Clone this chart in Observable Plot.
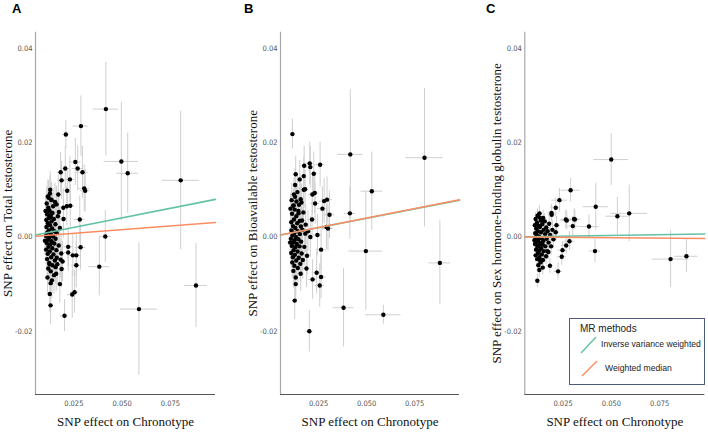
<!DOCTYPE html>
<html>
<head>
<meta charset="utf-8">
<script src="https://cdn.jsdelivr.net/npm/d3@7"></script>
<script src="https://cdn.jsdelivr.net/npm/@observablehq/plot@0.6"></script>
<style>
  html, body { margin: 0; padding: 0; background: #fff; }
  #fig { position: relative; width: 708px; height: 432px; overflow: hidden; background: #fff; }
  .panel { position: absolute; top: 0; }
  .letter { position: absolute; font: bold 13px "Liberation Sans", Arial, sans-serif; color: #000; }
  #fig svg [aria-label$="tick label"] text { font-family: "DejaVu Sans Condensed", "Liberation Sans Narrow", "DejaVu Sans", sans-serif; font-stretch: condensed; font-size: 7.5px; fill: #555; }
  #fig svg [aria-label$="axis label"] text { font-family: "Liberation Serif", "DejaVu Serif", serif; font-size: 13px; fill: #111; }
  #legend { position: absolute; left: 569px; top: 318px; width: 134px; height: 65px; border: 1px solid #4d5b7c; background: #fff; font-family: "Liberation Sans", Arial, sans-serif; color: #222; }
  #legend .t { position: absolute; left: 10px; top: 4px; font-size: 10px; }
  #legend .k { position: absolute; font-size: 8.6px; }
  #legend svg { position: absolute; left: 0; top: 0; }
</style>
</head>
<body>
<div id="fig">
  <div class="letter" style="left:12px;top:1px">A</div>
  <div class="letter" style="left:244px;top:1px">B</div>
  <div class="letter" style="left:486px;top:1px">C</div>
</div>
<script>
// Panel titles / axis texts
const panelLetters = ["A", "B", "C"];
const yLabels = [
  "SNP effect on Total testosterone",
  "SNP effect on Bioavailable testosterone",
  "SNP effect on Sex hormone-binding globulin testosterone"
];
const xLabel = "SNP effect on Chronotype";
const xTicks = [0.025, 0.050, 0.075];
const yTicks = [-0.02, 0.00, 0.02, 0.04];
const methods = ["Inverse variance weighted", "Weighted median"];
const methodColors = ["#66c2a5", "#fc8d62"];

// MR slopes per panel [IVW, weighted median]
const slopesA = [0.081, 0.031];
const slopesB = [0.079, 0.080];
const slopesC = [0.0063, -0.0034];

// SNP rows: [beta exposure, beta outcome, se exposure, se outcome]
const snpA = [
  [0.0416, 0.0271, 0.0066, 0.0099], [0.0287, 0.0235, 0.0041, 0.0064], [0.0209, 0.0217, 0.0016, 0.0030],
  [0.0496, 0.0160, 0.0089, 0.0125], [0.0529, 0.0135, 0.0056, 0.0085], [0.0803, 0.0120, 0.0097, 0.0147],
  [0.0413, 0.0001, 0.0030, 0.0055], [0.0382, -0.0063, 0.0054, 0.0062], [0.0587, -0.0153, 0.0095, 0.0140],
  [0.0882, -0.0103, 0.0058, 0.0089], [0.0202, -0.0167, 0.0020, 0.0034], [0.0130, -0.0145, 0.0012, 0.0040],
  [0.0126, -0.0121, 0.0012, 0.0038], [0.0242, -0.0122, 0.0025, 0.0050], [0.0254, -0.0117, 0.0022, 0.0045],
  [0.0258, 0.0159, 0.0030, 0.0050], [0.0270, 0.0145, 0.0028, 0.0048], [0.0182, 0.0137, 0.0018, 0.0042],
  [0.0206, 0.0145, 0.0022, 0.0046], [0.0295, 0.0137, 0.0030, 0.0055], [0.0187, 0.0120, 0.0020, 0.0040],
  [0.0230, 0.0122, 0.0025, 0.0048], [0.0304, 0.0103, 0.0028, 0.0050], [0.0309, 0.0098, 0.0025, 0.0045],
  [0.0216, 0.0098, 0.0020, 0.0042], [0.0128, 0.0100, 0.0012, 0.0038], [0.0116, 0.0086, 0.0012, 0.0035],
  [0.0135, 0.0078, 0.0014, 0.0036], [0.0161, 0.0069, 0.0016, 0.0038], [0.0196, 0.0062, 0.0020, 0.0040],
  [0.0214, 0.0065, 0.0022, 0.0042], [0.0232, 0.0066, 0.0024, 0.0045], [0.0121, 0.0057, 0.0012, 0.0036],
  [0.0173, 0.0053, 0.0018, 0.0038], [0.0131, 0.0042, 0.0014, 0.0034], [0.0197, 0.0038, 0.0020, 0.0040],
  [0.0281, 0.0037, 0.0028, 0.0050], [0.0221, -0.0021, 0.0022, 0.0042], [0.0285, -0.0022, 0.0028, 0.0048],
  [0.0221, -0.0033, 0.0020, 0.0040], [0.0245, -0.0039, 0.0024, 0.0045], [0.0263, -0.0039, 0.0026, 0.0046],
  [0.0162, -0.0044, 0.0016, 0.0036], [0.0182, -0.0048, 0.0018, 0.0038], [0.0263, -0.0060, 0.0026, 0.0048],
  [0.0125, -0.0058, 0.0012, 0.0035], [0.0156, -0.0064, 0.0015, 0.0036], [0.0187, -0.0068, 0.0018, 0.0040],
  [0.0159, -0.0078, 0.0016, 0.0038], [0.0131, -0.0098, 0.0013, 0.0036], [0.0178, -0.0100, 0.0018, 0.0040],
  [0.0110, 0.0071, 0.0011, 0.0036], [0.0118, 0.0062, 0.0012, 0.0034], [0.0125, 0.0055, 0.0013, 0.0038],
  [0.0112, 0.0048, 0.0011, 0.0033], [0.0130, 0.0046, 0.0013, 0.0037], [0.0140, 0.0051, 0.0014, 0.0040],
  [0.0121, 0.0040, 0.0012, 0.0035], [0.0108, 0.0036, 0.0011, 0.0032], [0.0135, 0.0033, 0.0014, 0.0036],
  [0.0147, 0.0038, 0.0015, 0.0039], [0.0116, 0.0029, 0.0012, 0.0034], [0.0127, 0.0025, 0.0013, 0.0037],
  [0.0155, 0.0027, 0.0016, 0.0040], [0.0109, 0.0021, 0.0011, 0.0033], [0.0138, 0.0018, 0.0014, 0.0036],
  [0.0121, 0.0014, 0.0012, 0.0035], [0.0150, 0.0012, 0.0015, 0.0039], [0.0113, 0.0009, 0.0011, 0.0034],
  [0.0131, 0.0006, 0.0013, 0.0036], [0.0162, 0.0008, 0.0016, 0.0041], [0.0106, 0.0002, 0.0011, 0.0032],
  [0.0124, -0.0001, 0.0012, 0.0035], [0.0143, 0.0001, 0.0014, 0.0038], [0.0117, -0.0006, 0.0012, 0.0034],
  [0.0135, -0.0009, 0.0013, 0.0036], [0.0156, -0.0004, 0.0016, 0.0040], [0.0110, -0.0013, 0.0011, 0.0033],
  [0.0128, -0.0016, 0.0013, 0.0036], [0.0149, -0.0014, 0.0015, 0.0039], [0.0119, -0.0021, 0.0012, 0.0035],
  [0.0139, -0.0024, 0.0014, 0.0037], [0.0107, -0.0027, 0.0011, 0.0032], [0.0126, -0.0031, 0.0013, 0.0035],
  [0.0160, -0.0028, 0.0016, 0.0041], [0.0115, -0.0036, 0.0012, 0.0034], [0.0145, -0.0037, 0.0015, 0.0038],
  [0.0133, -0.0043, 0.0013, 0.0036], [0.0112, -0.0047, 0.0011, 0.0033], [0.0152, -0.0050, 0.0015, 0.0040],
  [0.0123, -0.0055, 0.0012, 0.0035], [0.0140, -0.0060, 0.0014, 0.0038], [0.0118, -0.0067, 0.0012, 0.0036],
  [0.0131, -0.0073, 0.0013, 0.0037], [0.0148, -0.0081, 0.0015, 0.0040], [0.0114, -0.0086, 0.0011, 0.0034],
  [0.0137, -0.0092, 0.0014, 0.0038], [0.0168, 0.0044, 0.0017, 0.0041], [0.0172, -0.0018, 0.0017, 0.0040],
  [0.0165, -0.0058, 0.0017, 0.0041], [0.0178, 0.0019, 0.0018, 0.0042], [0.0104, 0.0055, 0.0010, 0.0032],
  [0.0101, -0.0008, 0.0010, 0.0031], [0.0120, 0.0083, 0.0012, 0.0036], [0.0127, 0.0092, 0.0013, 0.0037],
  [0.0143, 0.0065, 0.0014, 0.0039], [0.0153, 0.0074, 0.0015, 0.0040], [0.0134, 0.0079, 0.0013, 0.0037],
  [0.0185, -0.0035, 0.0018, 0.0042], [0.0192, -0.0052, 0.0019, 0.0043], [0.0170, 0.0090, 0.0017, 0.0041]
];

const snpB = [
  [0.0114, 0.0218, 0.0012, 0.0032], [0.0415, 0.0175, 0.0065, 0.0137], [0.0801, 0.0168, 0.0097, 0.0147],
  [0.0527, 0.0097, 0.0056, 0.0083], [0.0413, 0.0050, 0.0030, 0.0055], [0.0496, -0.0030, 0.0088, 0.0125],
  [0.0881, -0.0055, 0.0056, 0.0089], [0.0380, -0.0150, 0.0054, 0.0083], [0.0587, -0.0165, 0.0092, 0.0020],
  [0.0202, -0.0200, 0.0020, 0.0044], [0.0126, -0.0135, 0.0012, 0.0040], [0.0131, -0.0100, 0.0012, 0.0038],
  [0.0131, -0.0086, 0.0012, 0.0036], [0.0219, -0.0090, 0.0022, 0.0042], [0.0240, -0.0076, 0.0024, 0.0045],
  [0.0256, -0.0103, 0.0025, 0.0046], [0.0263, -0.0085, 0.0026, 0.0046], [0.0157, -0.0078, 0.0015, 0.0038],
  [0.0187, -0.0067, 0.0018, 0.0040], [0.0263, -0.0027, 0.0026, 0.0046], [0.0244, 0.0004, 0.0024, 0.0044],
  [0.0291, 0.0021, 0.0028, 0.0048], [0.0299, 0.0018, 0.0028, 0.0048], [0.0307, 0.0047, 0.0028, 0.0050],
  [0.0131, 0.0133, 0.0013, 0.0038], [0.0152, 0.0122, 0.0015, 0.0040], [0.0175, 0.0151, 0.0018, 0.0042],
  [0.0204, 0.0156, 0.0020, 0.0045], [0.0207, 0.0148, 0.0020, 0.0044], [0.0173, 0.0129, 0.0017, 0.0040],
  [0.0225, 0.0134, 0.0022, 0.0046], [0.0258, 0.0153, 0.0026, 0.0048], [0.0128, 0.0110, 0.0012, 0.0036],
  [0.0180, 0.0101, 0.0018, 0.0040], [0.0218, 0.0090, 0.0021, 0.0042], [0.0230, 0.0093, 0.0023, 0.0044],
  [0.0279, 0.0076, 0.0027, 0.0048], [0.0294, 0.0079, 0.0028, 0.0048], [0.0232, 0.0071, 0.0023, 0.0044],
  [0.0270, 0.0060, 0.0026, 0.0046], [0.0128, 0.0085, 0.0012, 0.0036], [0.0161, 0.0073, 0.0016, 0.0038],
  [0.0145, 0.0055, 0.0014, 0.0036], [0.0121, 0.0067, 0.0012, 0.0035],
  [0.0110, 0.0078, 0.0011, 0.0035], [0.0118, 0.0066, 0.0012, 0.0034], [0.0126, 0.0058, 0.0013, 0.0037],
  [0.0112, 0.0049, 0.0011, 0.0033], [0.0134, 0.0044, 0.0013, 0.0037], [0.0146, 0.0050, 0.0015, 0.0040],
  [0.0122, 0.0037, 0.0012, 0.0035], [0.0108, 0.0031, 0.0011, 0.0032], [0.0139, 0.0029, 0.0014, 0.0036],
  [0.0152, 0.0034, 0.0015, 0.0039], [0.0117, 0.0023, 0.0012, 0.0034], [0.0129, 0.0019, 0.0013, 0.0037],
  [0.0158, 0.0022, 0.0016, 0.0040], [0.0109, 0.0014, 0.0011, 0.0033], [0.0141, 0.0012, 0.0014, 0.0036],
  [0.0123, 0.0008, 0.0012, 0.0035], [0.0153, 0.0006, 0.0015, 0.0039], [0.0114, 0.0003, 0.0011, 0.0034],
  [0.0133, 0.0000, 0.0013, 0.0036], [0.0166, 0.0015, 0.0016, 0.0041], [0.0106, -0.0004, 0.0011, 0.0032],
  [0.0125, -0.0007, 0.0012, 0.0035], [0.0145, -0.0005, 0.0014, 0.0038], [0.0118, -0.0012, 0.0012, 0.0034],
  [0.0137, -0.0015, 0.0013, 0.0036], [0.0159, -0.0010, 0.0016, 0.0040], [0.0111, -0.0019, 0.0011, 0.0033],
  [0.0129, -0.0022, 0.0013, 0.0036], [0.0151, -0.0020, 0.0015, 0.0039], [0.0120, -0.0028, 0.0012, 0.0035],
  [0.0141, -0.0031, 0.0014, 0.0037], [0.0108, -0.0034, 0.0011, 0.0032], [0.0127, -0.0038, 0.0013, 0.0035],
  [0.0162, -0.0035, 0.0016, 0.0041], [0.0116, -0.0043, 0.0012, 0.0034], [0.0147, -0.0044, 0.0015, 0.0038],
  [0.0134, -0.0050, 0.0013, 0.0036], [0.0113, -0.0054, 0.0011, 0.0033], [0.0155, -0.0057, 0.0015, 0.0040],
  [0.0124, -0.0061, 0.0012, 0.0035], [0.0142, -0.0066, 0.0014, 0.0038], [0.0119, -0.0072, 0.0012, 0.0036],
  [0.0171, 0.0052, 0.0017, 0.0041], [0.0176, -0.0021, 0.0017, 0.0040], [0.0168, -0.0049, 0.0017, 0.0041],
  [0.0183, 0.0026, 0.0018, 0.0042], [0.0104, 0.0060, 0.0010, 0.0032], [0.0102, -0.0012, 0.0010, 0.0031],
  [0.0122, 0.0090, 0.0012, 0.0036], [0.0140, 0.0095, 0.0014, 0.0037], [0.0148, 0.0068, 0.0014, 0.0039],
  [0.0157, 0.0080, 0.0015, 0.0040], [0.0135, 0.0075, 0.0013, 0.0037], [0.0190, -0.0040, 0.0018, 0.0042],
  [0.0195, 0.0012, 0.0019, 0.0043], [0.0173, 0.0100, 0.0017, 0.0041], [0.0164, 0.0035, 0.0016, 0.0040],
  [0.0181, 0.0007, 0.0018, 0.0041], [0.0207, 0.0000, 0.0020, 0.0043], [0.0216, 0.0037, 0.0021, 0.0044]
];

const snpC = [
  [0.0499, 0.0164, 0.0090, 0.0055], [0.0289, 0.0099, 0.0048, 0.0025], [0.0231, 0.0078, 0.0040, 0.0025],
  [0.0212, 0.0062, 0.0025, 0.0020], [0.0419, 0.0064, 0.0065, 0.0050], [0.0592, 0.0050, 0.0095, 0.0060],
  [0.0531, 0.0044, 0.0060, 0.0040], [0.0190, 0.0051, 0.0020, 0.0018], [0.0130, 0.0041, 0.0012, 0.0015],
  [0.0264, 0.0037, 0.0026, 0.0020], [0.0307, 0.0038, 0.0028, 0.0022], [0.0384, 0.0022, 0.0052, 0.0025],
  [0.0415, -0.0030, 0.0030, 0.0025], [0.0806, -0.0047, 0.0095, 0.0060], [0.0888, -0.0041, 0.0060, 0.0035],
  [0.0117, -0.0093, 0.0012, 0.0015], [0.0224, -0.0073, 0.0022, 0.0018], [0.0182, -0.0061, 0.0018, 0.0016],
  [0.0243, -0.0042, 0.0024, 0.0018], [0.0247, -0.0028, 0.0024, 0.0018], [0.0266, -0.0018, 0.0026, 0.0018],
  [0.0283, -0.0009, 0.0028, 0.0020], [0.0174, -0.0032, 0.0017, 0.0016], [0.0130, -0.0049, 0.0013, 0.0016],
  [0.0300, 0.0023, 0.0028, 0.0020], [0.0269, 0.0035, 0.0026, 0.0020], [0.0311, 0.0037, 0.0028, 0.0020],
  [0.0216, 0.0025, 0.0022, 0.0018], [0.0191, 0.0047, 0.0019, 0.0017],
  [0.0108, 0.0038, 0.0011, 0.0014], [0.0115, 0.0030, 0.0012, 0.0015], [0.0122, 0.0024, 0.0012, 0.0016],
  [0.0111, 0.0018, 0.0011, 0.0014], [0.0130, 0.0021, 0.0013, 0.0016], [0.0142, 0.0027, 0.0014, 0.0017],
  [0.0119, 0.0012, 0.0012, 0.0015], [0.0106, 0.0008, 0.0011, 0.0014], [0.0136, 0.0010, 0.0014, 0.0016],
  [0.0150, 0.0015, 0.0015, 0.0017], [0.0113, 0.0004, 0.0011, 0.0014], [0.0126, 0.0001, 0.0013, 0.0016],
  [0.0157, 0.0006, 0.0016, 0.0018], [0.0109, -0.0002, 0.0011, 0.0014], [0.0139, -0.0003, 0.0014, 0.0016],
  [0.0121, -0.0006, 0.0012, 0.0015], [0.0148, -0.0008, 0.0015, 0.0017], [0.0114, -0.0010, 0.0011, 0.0014],
  [0.0132, -0.0013, 0.0013, 0.0016], [0.0165, -0.0004, 0.0016, 0.0018], [0.0105, -0.0015, 0.0010, 0.0013],
  [0.0124, -0.0018, 0.0012, 0.0015], [0.0144, -0.0016, 0.0014, 0.0017], [0.0117, -0.0021, 0.0012, 0.0015],
  [0.0136, -0.0024, 0.0014, 0.0016], [0.0158, -0.0020, 0.0016, 0.0018], [0.0110, -0.0027, 0.0011, 0.0014],
  [0.0128, -0.0029, 0.0013, 0.0016], [0.0150, -0.0030, 0.0015, 0.0017], [0.0120, -0.0034, 0.0012, 0.0015],
  [0.0140, -0.0037, 0.0014, 0.0016], [0.0108, -0.0039, 0.0011, 0.0014], [0.0127, -0.0043, 0.0013, 0.0016],
  [0.0162, -0.0041, 0.0016, 0.0018], [0.0116, -0.0047, 0.0012, 0.0015], [0.0146, -0.0049, 0.0015, 0.0017],
  [0.0134, -0.0054, 0.0013, 0.0016], [0.0122, -0.0060, 0.0012, 0.0015], [0.0170, 0.0012, 0.0017, 0.0018],
  [0.0175, -0.0012, 0.0017, 0.0018], [0.0168, -0.0030, 0.0017, 0.0018], [0.0183, 0.0004, 0.0018, 0.0019],
  [0.0104, 0.0025, 0.0010, 0.0013], [0.0102, -0.0007, 0.0010, 0.0013], [0.0118, 0.0045, 0.0012, 0.0015],
  [0.0128, 0.0050, 0.0013, 0.0016], [0.0147, 0.0040, 0.0015, 0.0017], [0.0155, 0.0033, 0.0015, 0.0017],
  [0.0135, 0.0035, 0.0014, 0.0016], [0.0188, -0.0020, 0.0018, 0.0019], [0.0195, 0.0015, 0.0019, 0.0019],
  [0.0178, 0.0028, 0.0018, 0.0018], [0.0163, 0.0020, 0.0016, 0.0018], [0.0200, -0.0005, 0.0020, 0.0019],
  [0.0212, 0.0010, 0.0021, 0.0019], [0.0145, -0.0065, 0.0014, 0.0016], [0.0127, -0.0070, 0.0013, 0.0016]
];

const xDomain = [0.0052, 0.0983];
const yDomain = [-0.0334, 0.0434];

function panel(rows, slopes, ylabel, left, marginLeft, marginRight) {
  const data = rows.map(([bx, by, sx, sy]) => ({bx, by, sx, sy}));
  const lineData = [];
  methods.forEach((m, i) => {
    xDomain.forEach(x => lineData.push({method: m, x, y: slopes[i] * x}));
  });
  const svg = Plot.plot({
    width: 236,
    height: 432,
    marginTop: 31.7,
    marginBottom: 38,
    marginLeft,
    marginRight,
    style: {background: "transparent", overflow: "visible"},
    x: {domain: xDomain},
    y: {domain: yDomain},
    color: {domain: methods, range: methodColors},
    marks: [
      Plot.axisY({ticks: yTicks, tickSize: 0, tickPadding: 3, tickFormat: d => d.toFixed(2),
        label: ylabel, labelAnchor: "center", labelArrow: false, labelOffset: 33}),
      Plot.axisX({ticks: xTicks, tickSize: 0, tickPadding: 6, tickFormat: d => d.toFixed(3),
        label: xLabel, labelAnchor: "center", labelArrow: false, labelOffset: 31}),
      Plot.ruleX(data, {x: "bx", y1: d => d.by - d.sy, y2: d => d.by + d.sy, stroke: "#cfcfcf", strokeWidth: 1}),
      Plot.ruleY(data, {y: "by", x1: d => d.bx - d.sx, x2: d => d.bx + d.sx, stroke: "#cfcfcf", strokeWidth: 1}),
      Plot.dot(data, {x: "bx", y: "by", r: 2.2, fill: "#000", stroke: null}),
      Plot.line(lineData, {x: "x", y: "y", z: "method", stroke: "method", strokeWidth: 1.6}),
      Plot.ruleX([xDomain[0]], {stroke: "#a8a8a8", strokeWidth: 1.2}),
      Plot.ruleY([yDomain[0]], {stroke: "#555", strokeWidth: 1.2})
    ]
  });
  svg.classList.add("panel");
  svg.style.left = left + "px";
  svg.style.position = "absolute";
  svg.style.top = "0px";
  document.getElementById("fig").appendChild(svg);
}

panel(snpA, slopesA, yLabels[0], 0, 35, 21);
panel(snpB, slopesB, yLabels[1], 236, 44, 13);
panel(snpC, slopesC, yLabels[2], 472, 52.3, 3.7);

// Legend (MR methods)
const legend = document.createElement("div");
legend.id = "legend";
legend.innerHTML = `<div class="t">MR methods</div>
<svg width="134" height="65"></svg>
<div class="k" style="left:31px;top:20px">${methods[0]}</div>
<div class="k" style="left:35px;top:44px">${methods[1]}</div>`;
document.getElementById("fig").appendChild(legend);
const lsvg = d3.select(legend).select("svg");
lsvg.append("line").attr("x1", 11).attr("y1", 34).attr("x2", 26).attr("y2", 18).attr("stroke", methodColors[0]).attr("stroke-width", 1.4);
lsvg.append("line").attr("x1", 12).attr("y1", 57).attr("x2", 27).attr("y2", 42).attr("stroke", methodColors[1]).attr("stroke-width", 1.4);
</script>
</body>
</html>
